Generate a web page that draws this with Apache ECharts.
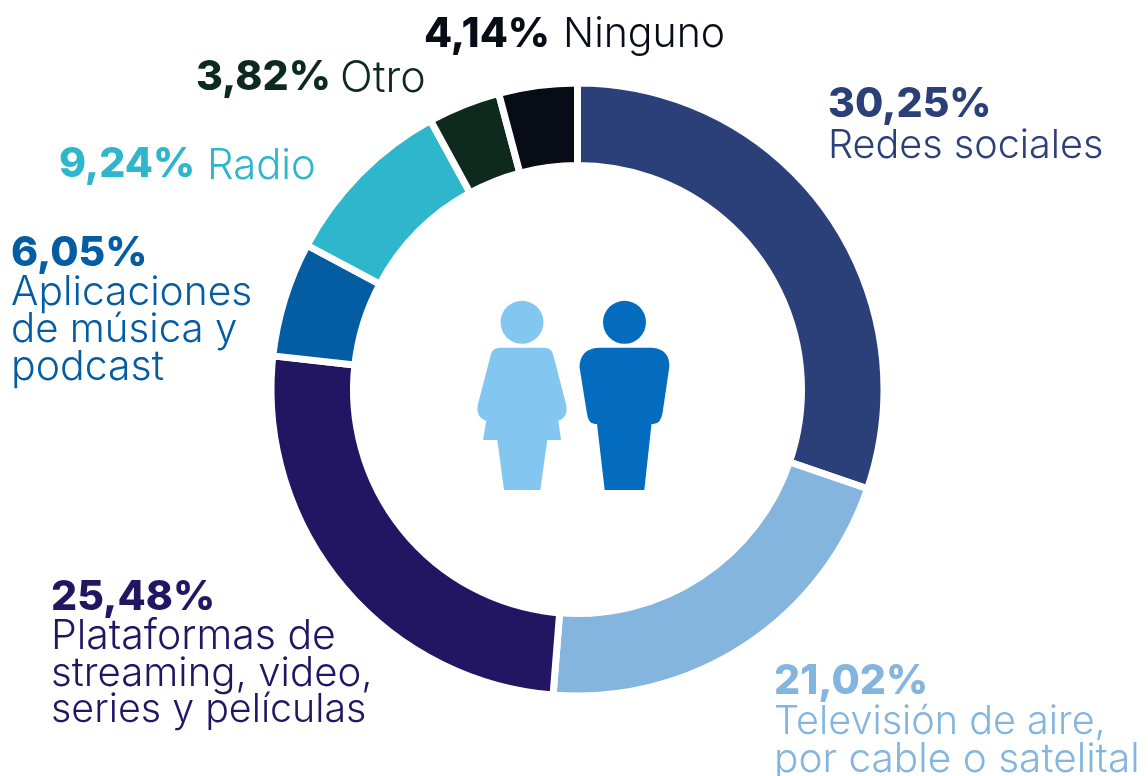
<!DOCTYPE html>
<html><head><meta charset="utf-8">
<style>html,body{margin:0;padding:0;background:#fff}#c{width:1148px;height:776px}</style>
<script src="https://cdn.jsdelivr.net/npm/echarts@6/dist/echarts.min.js"></script>
</head><body><div id="c"></div>
<script>
const categories = ["Redes sociales","Televisión de aire, por cable o satelital","Plataformas de streaming, video, series y películas","Aplicaciones de música y podcast","Radio","Otro","Ninguno"];
const values = [30.25,21.02,25.48,6.05,9.24,3.82,4.14];
const percentLabels = ["30,25%","21,02%","25,48%","6,05%","9,24%","3,82%","4,14%"];
const colors = ["#2B4078","#83B5DF","#221663","#045CA2","#2DB6CC","#0E2A1E","#070C17"];
const labelSpec = [
 {x:828,y:84,ly:[126],fs:[39.6],lines:["Redes sociales"]},
 {x:774,y:661,ly:[702,739],fs:[39.6,40.6],lines:["Televisión de aire,","por cable o satelital"]},
 {x:51,y:577,ly:[616,654,691],fs:[41,40.2,39.4],lines:["Plataformas de","streaming, video,","series y películas"]},
 {x:11,y:233,ly:[272,310,347],fs:[40.7,40.2,41],lines:["Aplicaciones","de música y","podcast"]},
 {x:59,y:144,ix:207,iy:145,fs:41.8,inline:"Radio"},
 {x:196,y:57,ix:340,iy:58,fs:43,inline:"Otro"},
 {x:424,y:14,ix:563,iy:14,fs:41,inline:"Ninguno"}
];
const boldFont='800 41px Inter, sans-serif';
const g=[];
labelSpec.forEach((s,i)=>{
  g.push({type:'text',x:s.x,y:s.y,style:{text:percentLabels[i],font:boldFont,fill:colors[i]}});
  if(s.inline){
    g.push({type:'text',x:s.ix,y:s.iy,style:{text:s.inline,font:'300 '+s.fs+'px Inter, sans-serif',fill:colors[i]}});
  } else {
    s.lines.forEach((l,k)=>g.push({type:'text',x:s.x,y:s.ly[k],style:{text:l,font:'300 '+s.fs[k]+'px Inter, sans-serif',fill:colors[i]}}));
  }
});
// People icons
echarts.graphic.registerShape('womanBody', echarts.graphic.extendPath('M500 347.7 L544 347.7 Q551 347.7 553 354 L566 404 Q569 417 558.3 420.7 L561 440 L547.3 440 L540.3 490 L504 490 L497.3 440 L483 440 L486.3 420.7 Q475 417 478 404 L491 354 Q493 347.7 500 347.7 Z',{}));
echarts.graphic.registerShape('manBody', echarts.graphic.extendPath('M598.3 347.7 L651.7 347.7 Q670 349 669.3 367 L662.7 412 Q661 424 653.3 424 L651.5 424 L644.3 490 L604.7 490 L597 424 L595 424 Q588 424 586.7 412 L579.5 367 Q580 349 598.3 347.7 Z',{}));
g.push({type:'circle',shape:{cx:522,cy:322.3,r:21.5},style:{fill:'#83C7F0'}});
g.push({type:'womanBody',style:{fill:'#83C7F0'}});
g.push({type:'circle',shape:{cx:624.5,cy:322.3,r:21.5},style:{fill:'#036CBF'}});
g.push({type:'manBody',style:{fill:'#036CBF'}});
const chart = echarts.init(document.getElementById('c'),null,{renderer:'canvas'});
chart.setOption({
  animation:false,
  graphic:{elements:g},
  series:[{type:'pie',center:[577.5,389.5],radius:[224,306.5],startAngle:90,clockwise:true,
    label:{show:false},labelLine:{show:false},
    itemStyle:{borderColor:'#fff',borderWidth:7},
    data:categories.map((n,i)=>({name:n,value:values[i],itemStyle:{color:colors[i]}}))}]
});
</script></body></html>
